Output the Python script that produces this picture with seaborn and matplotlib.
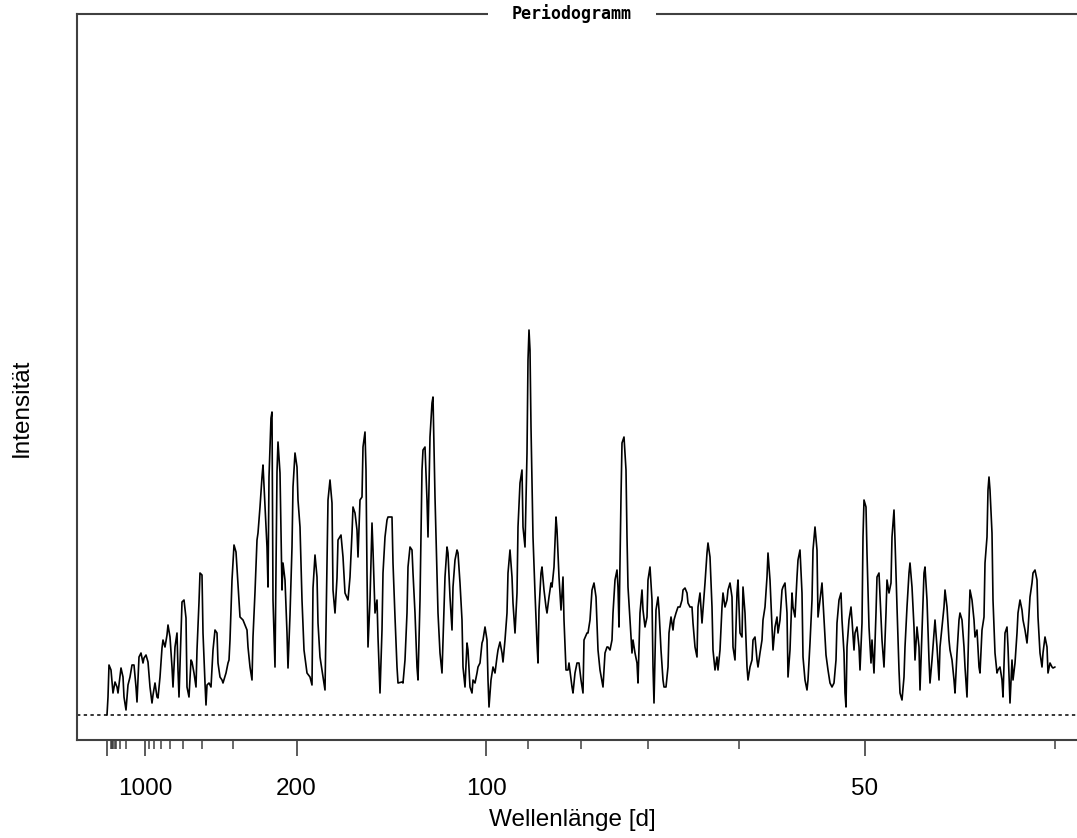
import matplotlib
matplotlib.use('Agg')
import matplotlib.pyplot as plt
import seaborn as sns
import numpy as np
import pandas as pd

# record length in days -> frequency bins k / N_DAYS  [1/d]
N_DAYS = 37900

# periodogram (bin index, intensity in arbitrary units)
bin_k = [
    0, 1, 2, 4, 6, 8, 10, 11, 14, 16, 17, 19, 21, 23, 25, 27, 29, 30, 32, 34,
    36, 37, 39, 41, 43, 45, 46, 48, 50, 51, 53, 55, 56, 58, 60, 61, 63, 65, 66, 68,
    70, 71, 72, 74, 75, 77, 79, 80, 82, 84, 85, 87, 89, 90, 92, 93, 95, 96, 98, 99,
    100, 102, 104, 106, 108, 110, 111, 113, 115, 116, 119, 121, 122, 123, 125, 127, 129, 131, 133, 136,
    140, 141, 143, 145, 146, 148, 150, 151, 153, 155, 156, 158, 160, 161, 162, 164, 165, 166, 168, 170,
    171, 173, 175, 176, 178, 180, 181, 183, 185, 186, 188, 190, 191, 193, 195, 197, 200, 203, 205, 206,
    208, 210, 211, 213, 216, 218, 220, 221, 223, 225, 226, 228, 230, 231, 234, 236, 238, 241, 243, 245,
    246, 248, 250, 251, 253, 255, 256, 258, 259, 260, 261, 263, 265, 266, 268, 270, 271, 273, 275, 276,
    278, 280, 281, 285, 286, 288, 290, 291, 295, 296, 298, 300, 301, 303, 305, 306, 308, 310, 311, 313,
    315, 316, 318, 320, 321, 323, 325, 326, 328, 330, 331, 333, 335, 336, 338, 340, 341, 343, 345, 346,
    348, 350, 351, 353, 355, 356, 358, 360, 361, 363, 365, 366, 368, 370, 371, 373, 375, 376, 378, 380,
    381, 382, 384, 386, 388, 390, 391, 393, 395, 396, 398, 400, 401, 403, 405, 406, 408, 410, 411, 413,
    415, 416, 418, 420, 421, 422, 423, 424, 426, 428, 430, 431, 432, 434, 435, 437, 439, 440, 442, 444,
    445, 447, 449, 450, 452, 454, 456, 457, 459, 461, 462, 465, 466, 468, 470, 472, 474, 476, 477, 480,
    481, 483, 485, 487, 489, 491, 493, 496, 498, 500, 501, 503, 505, 506, 508, 510, 511, 512, 514, 515,
    517, 519, 520, 521, 523, 525, 526, 528, 530, 531, 533, 535, 536, 538, 540, 541, 543, 545, 546, 547,
    549, 551, 552, 554, 556, 557, 559, 561, 562, 564, 566, 567, 569, 571, 573, 575, 576, 578, 580, 581,
    583, 585, 586, 588, 590, 591, 593, 595, 596, 598, 600, 601, 603, 605, 606, 608, 610, 611, 613, 615,
    616, 618, 620, 621, 623, 625, 626, 628, 630, 631, 633, 635, 636, 638, 640, 641, 643, 645, 646, 648,
    650, 651, 653, 655, 656, 658, 660, 661, 663, 665, 666, 668, 670, 671, 673, 675, 676, 678, 680, 681,
    683, 685, 686, 688, 690, 691, 693, 695, 696, 698, 700, 701, 703, 705, 706, 708, 710, 711, 713, 715,
    717, 719, 721, 723, 725, 727, 729, 730, 732, 734, 735, 737, 738, 739, 740, 742, 744, 745, 747, 748,
    750, 752, 753, 755, 756, 757, 759, 760, 762, 764, 765, 767, 769, 770, 772, 774, 775, 777, 779, 780,
    782, 784, 785, 787, 788, 790, 792, 793, 795, 797, 798, 800, 802, 803, 805, 807, 808, 810, 812, 813,
    815, 817, 818, 820, 822, 823, 825, 827, 828, 830, 832, 833, 835, 837, 838, 840, 842, 843, 845, 847,
    848, 850, 852, 853, 855, 857, 858, 860, 862, 863, 865, 867, 868, 870, 872, 873, 875, 877, 878, 880,
    881, 882, 883, 885, 886, 888, 890, 891, 893, 895, 896, 898, 900, 901, 903, 905, 906, 908, 910, 911,
    913, 915, 916, 918, 920, 921, 923, 925, 926, 928, 930, 931, 933, 935, 936, 938, 940, 941, 943, 945,
    946, 948,
]
intensity = [
    0, 18, 50, 45, 22, 33, 28, 22, 47, 38, 18, 5, 30, 38, 50, 50, 28, 13, 58, 62,
    52, 57, 60, 53, 28, 12, 20, 32, 18, 17, 38, 67, 75, 68, 80, 90, 78, 48, 28, 68,
    82, 45, 18, 83, 113, 115, 97, 28, 18, 55, 53, 42, 28, 65, 113, 142, 140, 82, 32, 10,
    30, 32, 28, 65, 85, 82, 52, 38, 35, 32, 42, 52, 55, 75, 135, 170, 163, 130, 98, 95,
    85, 68, 48, 35, 78, 123, 175, 182, 208, 238, 250, 208, 168, 128, 238, 297, 303, 115, 48, 243,
    273, 242, 125, 152, 135, 82, 47, 100, 168, 228, 262, 248, 215, 188, 115, 65, 42, 38, 30, 127,
    160, 138, 92, 58, 38, 25, 152, 215, 235, 212, 125, 102, 137, 175, 180, 158, 122, 115, 138, 182,
    208, 202, 185, 158, 215, 218, 268, 283, 245, 142, 68, 115, 192, 165, 102, 115, 78, 22, 85, 142,
    178, 195, 198, 198, 152, 98, 48, 32, 33, 32, 55, 102, 148, 168, 165, 142, 102, 48, 35, 115,
    245, 265, 268, 215, 178, 278, 312, 318, 218, 138, 102, 62, 42, 75, 138, 168, 162, 118, 85, 128,
    155, 165, 162, 132, 95, 48, 28, 72, 65, 28, 22, 35, 32, 42, 48, 52, 72, 75, 88, 75,
    35, 8, 35, 48, 42, 58, 65, 73, 62, 53, 75, 102, 142, 165, 138, 112, 82, 122, 188, 232,
    245, 188, 168, 262, 355, 385, 365, 288, 178, 122, 72, 52, 105, 142, 148, 125, 108, 102, 118, 132,
    128, 148, 198, 185, 138, 105, 138, 95, 45, 45, 52, 28, 22, 42, 52, 52, 35, 22, 75, 82,
    82, 95, 125, 132, 118, 65, 45, 28, 62, 68, 68, 65, 75, 102, 135, 145, 128, 88, 218, 272,
    278, 245, 178, 128, 95, 62, 75, 62, 52, 32, 102, 125, 105, 88, 98, 135, 148, 115, 48, 12,
    105, 118, 105, 65, 35, 28, 28, 48, 82, 98, 85, 95, 102, 108, 108, 115, 125, 127, 122, 112,
    108, 108, 92, 68, 58, 108, 122, 92, 105, 132, 162, 172, 158, 108, 65, 45, 58, 45, 65, 108,
    122, 108, 115, 125, 132, 118, 68, 55, 122, 135, 82, 78, 128, 102, 48, 35, 48, 55, 75, 78,
    55, 48, 62, 75, 95, 108, 138, 162, 135, 88, 65, 88, 98, 82, 95, 125, 128, 132, 102, 38,
    65, 122, 108, 98, 138, 155, 165, 122, 58, 35, 25, 35, 72, 115, 165, 188, 165, 98, 115, 132,
    95, 60, 45, 32, 28, 32, 55, 92, 115, 122, 95, 62, 22, 8, 68, 95, 108, 95, 65, 82,
    88, 68, 45, 92, 178, 215, 208, 162, 88, 52, 75, 42, 102, 138, 142, 98, 75, 48, 102, 135,
    122, 132, 178, 205, 175, 108, 45, 22, 15, 38, 68, 108, 142, 152, 128, 88, 55, 88, 68, 25,
    85, 142, 148, 115, 55, 32, 55, 82, 95, 68, 35, 68, 88, 108, 125, 108, 75, 65, 55, 35,
    22, 62, 95, 102, 95, 68, 48, 18, 95, 125, 115, 95, 78, 85, 48, 42, 85, 98, 152, 178,
    225, 238, 225, 182, 115, 62, 42, 45, 48, 35, 18, 82, 88, 68, 12, 55, 35, 52, 82, 102,
    115, 105, 95, 85, 72, 85, 118, 132, 142, 145, 135, 98, 62, 48, 62, 78, 68, 42, 52, 48,
    47, 48,
]

# axis ticks as wavelengths [d]
major_waves = [1000, 200, 100, 50]
minor_waves = [9000, 8000, 7000, 6000, 5000, 4000, 3000, 2000,
               900, 800, 700, 600, 500, 400, 300, 90, 80, 70, 60, 40]

df = pd.DataFrame({'freq': np.array(bin_k) / N_DAYS, 'intensity': intensity})

sns.set_style('white')
plt.rcParams['font.family'] = ['Liberation Sans', 'DejaVu Sans']
plt.rcParams['text.color'] = 'black'
plt.rcParams['axes.labelcolor'] = 'black'
plt.rcParams['xtick.labelcolor'] = 'black'

fig = plt.figure(figsize=(10.77, 8.38), dpi=100)
ax = fig.add_axes([77 / 1077, 1 - 740 / 838, 1000 / 1077, 726 / 838])

sns.lineplot(data=df, x='freq', y='intensity', ax=ax, color='black',
             linewidth=1.2, estimator=None, sort=False)
ax.axhline(0, color='black', linewidth=1.1, linestyle=(0, (2.2, 2.2)))

ax.set_xlim(-30 / N_DAYS, 970 / N_DAYS)
ax.set_ylim(-25, 701)

# frame: left, top and bottom only
spine_col = '#404040'
for side in ['left', 'top', 'bottom']:
    ax.spines[side].set_visible(True)
    ax.spines[side].set_color(spine_col)
    ax.spines[side].set_linewidth(1.5)
ax.spines['right'].set_visible(False)

ax.set_xticks([0.0] + [1.0 / w for w in major_waves])
ax.set_xticklabels([''] + [str(w) for w in major_waves])
ax.set_xticks([1.0 / w for w in minor_waves], minor=True)
ax.set_yticks([])
ax.tick_params(axis='x', which='major', direction='out', length=11.5, width=1.2,
               color=spine_col, labelcolor='black', labelsize=17.5, pad=16, bottom=True)
ax.tick_params(axis='x', which='minor', direction='out', length=6.5, width=1.1,
               color=spine_col, bottom=True)

ax.set_xlabel('Wellenlänge [d]', fontsize=17.5, color='black')
ax.set_ylabel('Intensität', fontsize=17.5, color='black')
ax.yaxis.set_label_coords(-0.044, 0.457)
ax.xaxis.set_label_coords(0.495, -0.095)

ax.text(0.495, 1.0, 'Periodogramm', transform=ax.transAxes, ha='center', va='center',
        family='DejaVu Sans Mono', fontweight='bold', fontsize=12, color='black',
        bbox=dict(facecolor='white', edgecolor='none', pad=17))

plt.savefig('out.png', dpi=100)
